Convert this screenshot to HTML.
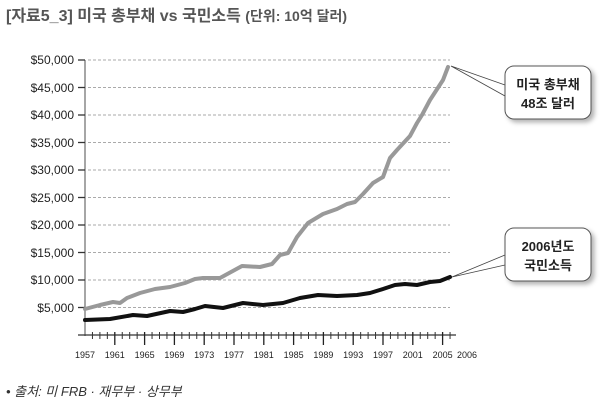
<!DOCTYPE html>
<html><head><meta charset="utf-8"><style>
body{margin:0;background:#fff;}
svg{display:block;font-family:"Liberation Sans","Noto Sans CJK KR",sans-serif;}
</style></head><body>
<svg width="600" height="407" viewBox="0 0 600 407">
<defs><filter id="sh" x="-20%" y="-20%" width="150%" height="150%"><feDropShadow dx="3" dy="3" stdDeviation="2.5" flood-color="#000" flood-opacity="0.3"/></filter></defs>
<text x="6" y="21" font-size="16" font-weight="bold" fill="#555">[자료5_3] 미국 총부채 vs 국민소득 <tspan font-size="14">(단위: 10억 달러)</tspan></text>
<g stroke="#aaa" stroke-width="1" stroke-dasharray="3,2">
<line x1="88" x2="450" y1="60" y2="60"/><line x1="88" x2="450" y1="87.5" y2="87.5"/><line x1="88" x2="450" y1="115" y2="115"/><line x1="88" x2="450" y1="142.5" y2="142.5"/><line x1="88" x2="450" y1="170" y2="170"/><line x1="88" x2="450" y1="197.5" y2="197.5"/><line x1="88" x2="450" y1="225" y2="225"/><line x1="88" x2="450" y1="252.5" y2="252.5"/><line x1="88" x2="450" y1="280" y2="280"/><line x1="88" x2="450" y1="307.5" y2="307.5"/>
</g>
<g font-size="12" fill="#222" text-anchor="end">
<text x="74" y="64">$50,000</text><text x="74" y="92">$45,000</text><text x="74" y="119">$40,000</text><text x="74" y="147">$35,000</text><text x="74" y="174">$30,000</text><text x="74" y="202">$25,000</text><text x="74" y="229">$20,000</text><text x="74" y="257">$15,000</text><text x="74" y="284">$10,000</text><text x="74" y="312">$5,000</text>
</g>
<g stroke="#333" stroke-width="1.3">
<line x1="85" y1="60" x2="85" y2="336" stroke="#888" stroke-width="1.5"/>
<line x1="78" y1="335" x2="456" y2="335"/>
<line x1="78" x2="85" y1="60" y2="60"/><line x1="78" x2="85" y1="87.5" y2="87.5"/><line x1="78" x2="85" y1="115" y2="115"/><line x1="78" x2="85" y1="142.5" y2="142.5"/><line x1="78" x2="85" y1="170" y2="170"/><line x1="78" x2="85" y1="197.5" y2="197.5"/><line x1="78" x2="85" y1="225" y2="225"/><line x1="78" x2="85" y1="252.5" y2="252.5"/><line x1="78" x2="85" y1="280" y2="280"/><line x1="78" x2="85" y1="307.5" y2="307.5"/>
</g>
<path stroke="#333" stroke-width="1" fill="none" d="M92.45,332V339M99.9,332V339M107.35,332V339M122.25,332V339M129.7,332V339M137.15,332V339M152.05,332V339M159.5,332V339M166.95,332V339M181.85,332V339M189.3,332V339M196.75,332V339M211.65,332V339M219.1,332V339M226.55,332V339M241.45,332V339M248.9,332V339M256.35,332V339M271.25,332V339M278.7,332V339M286.15,332V339M301.05,332V339M308.5,332V339M315.95,332V339M330.85,332V339M338.3,332V339M345.75,332V339M360.65,332V339M368.1,332V339M375.55,332V339M390.45,332V339M397.9,332V339M405.35,332V339M420.25,332V339M427.7,332V339M435.15,332V339M450.05,332V339"/>
<path stroke="#222" stroke-width="1.3" fill="none" d="M114.8,332V345M144.6,332V345M174.4,332V345M204.2,332V345M234,332V345M263.8,332V345M293.6,332V345M323.4,332V345M353.2,332V345M383,332V345M412.8,332V345M442.6,332V345"/>
<g font-size="9" fill="#222" text-anchor="middle">
<text x="85" y="358">1957</text><text x="114.8" y="358">1961</text><text x="144.6" y="358">1965</text><text x="174.4" y="358">1969</text><text x="204.2" y="358">1973</text><text x="234" y="358">1977</text><text x="263.8" y="358">1981</text><text x="293.6" y="358">1985</text><text x="323.4" y="358">1989</text><text x="353.2" y="358">1993</text><text x="383" y="358">1997</text><text x="412.8" y="358">2001</text><text x="442.6" y="358">2005</text><text x="467" y="358">2006</text>
</g>
<polyline fill="none" stroke="#999" stroke-width="4" stroke-linejoin="round" stroke-linecap="round" points="85,309 100,305 113,302 120,303 127,298 140,293 155,289 170,287 185,283 195,279 203,278 220,278 242,266 260,267 272,264 280,255 288,253 297,237 308,223 323,214 337,209 347,204 355,202 363,194 373,183 383,177 390,158 397,150 410,136 417,123 422,115 430,100 443,80 448,67"/>
<polyline fill="none" stroke="#111" stroke-width="4" stroke-linejoin="round" stroke-linecap="round" points="85,320 110,319 133,315 147,316 170,311 183,312 195,309 205,306 223,308 243,303 263,305 283,303 300,298 318,295 337,296 357,295 370,293 383,289 395,285 405,284 417,285 430,282 440,281 450,277"/>
<g stroke="#444" stroke-width="0.8" fill="none">
<path d="M451,66 L505,85 M451,66 L505,96"/>
<path d="M452,277 L505,255 M452,277 L505,265"/>
</g>
<rect x="505" y="66" width="86" height="53" rx="9" fill="#fff" stroke="#555" stroke-width="1" filter="url(#sh)"/>
<rect x="505" y="228" width="86" height="53" rx="9" fill="#fff" stroke="#555" stroke-width="1" filter="url(#sh)"/>
<g font-size="13" font-weight="bold" fill="#222" text-anchor="middle">
<text x="548" y="89">미국 총부채</text><text x="548" y="108">48조 달러</text>
<text x="548" y="251">2006년도</text><text x="548" y="270">국민소득</text>
</g>
<text x="6" y="396" font-size="13" font-style="italic" fill="#333">• 출처: 미 FRB · 재무부 · 상무부</text>
</svg>
</body></html>
